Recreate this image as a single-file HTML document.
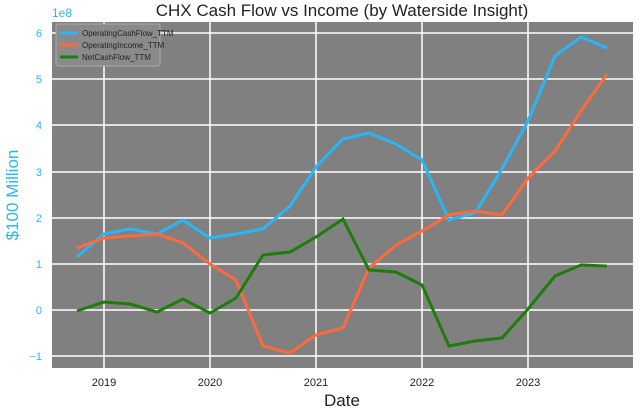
<!DOCTYPE html>
<html><head><meta charset="utf-8"><style>body{margin:0;background:#fff}svg{display:block}</style></head><body>
<svg width="640" height="411" xmlns="http://www.w3.org/2000/svg" font-family="Liberation Sans, DejaVu Sans, sans-serif">
<rect width="640" height="411" fill="#fff"/>
<rect x="52" y="22" width="581" height="346" fill="#808080"/>
<g stroke="#fff" stroke-width="1.5">
<line x1="52" x2="633" y1="33" y2="33"/><line x1="52" x2="633" y1="79" y2="79"/><line x1="52" x2="633" y1="125" y2="125"/><line x1="52" x2="633" y1="172" y2="172"/><line x1="52" x2="633" y1="218" y2="218"/><line x1="52" x2="633" y1="264" y2="264"/><line x1="52" x2="633" y1="310" y2="310"/><line x1="52" x2="633" y1="356" y2="356"/>
<line y1="22" y2="368" x1="104" x2="104"/><line y1="22" y2="368" x1="210" x2="210"/><line y1="22" y2="368" x1="316" x2="316"/><line y1="22" y2="368" x1="422" x2="422"/><line y1="22" y2="368" x1="528" x2="528"/>
</g>
<g fill="#29b6f6" font-size="11" text-anchor="end">
<text x="42" y="37">6</text><text x="42" y="83">5</text><text x="42" y="129">4</text><text x="42" y="176">3</text><text x="42" y="222">2</text><text x="42" y="268">1</text><text x="42" y="314">0</text><text x="42" y="360">−1</text>
</g>
<text x="52" y="17" fill="#29b6f6" font-size="12">1e8</text>
<g font-size="11" text-anchor="middle" fill="#222">
<text x="104" y="386">2019</text><text x="210" y="386">2020</text><text x="316" y="386">2021</text><text x="422" y="386">2022</text><text x="528" y="386">2023</text>
</g>
<text x="342" y="406" font-size="17" text-anchor="middle" fill="#222">Date</text>
<text x="18" y="195" font-size="17" text-anchor="middle" fill="#29b6f6" transform="rotate(-90 18 195)">$100 Million</text>
<text x="342" y="16" font-size="17" text-anchor="middle" fill="#222">CHX Cash Flow vs Income (by Waterside Insight)</text>
<polyline fill="none" stroke="#29b6f6" stroke-width="3" points="77,257 104,234 130,229 157,234 183,220 210,238 236,234 263,229 290,206 316,167 343,139 369,133 396,144 422,160 449,220 475,213 502,169 528,121 555,56 581,37 607,48"/>
<polyline fill="none" stroke="#ff6a3d" stroke-width="3" points="77,248 104,238 130,236 157,234 183,243 210,264 236,280 263,346 290,353 316,335 343,328 369,268 396,245 422,231 449,215 475,211 502,215 528,178 555,151 581,111 607,74"/>
<polyline fill="none" stroke="#1e7d0a" stroke-width="3" points="77,311 104,302 130,304 157,312 183,299 210,313 236,298 263,255 290,252 316,237 343,219 369,270 396,272 422,285 449,346 475,341 502,338 528,309 555,276 581,265 607,266"/>
<rect x="56" y="24" width="104" height="42" fill="#8a8a8a" stroke="#aaa" rx="2"/>
<g font-size="8" fill="#222">
<line x1="60" x2="78" y1="33" y2="33" stroke="#29b6f6" stroke-width="3"/><text x="82" y="36">OperatingCashFlow_TTM</text>
<line x1="60" x2="78" y1="45" y2="45" stroke="#ff6a3d" stroke-width="3"/><text x="82" y="48">OperatingIncome_TTM</text>
<line x1="60" x2="78" y1="57" y2="57" stroke="#1e7d0a" stroke-width="3"/><text x="82" y="60">NetCashFlow_TTM</text>
</g>
</svg>
</body></html>
